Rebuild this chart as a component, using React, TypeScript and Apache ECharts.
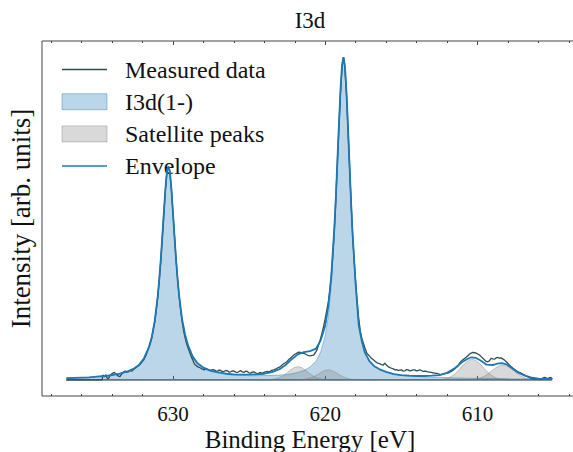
import React, { useEffect, useRef } from "react";
import * as echarts from "echarts";

// ---------- axis settings ----------
const X_MIN = 603.4;
const X_MAX = 638.6;
const Y_MIN = -0.05;
const Y_MAX = 1.05;
const MAJOR_TICKS = [610, 620, 630];
const MINOR_TICKS = [604, 606, 608, 612, 614, 616, 618, 622, 624, 626, 628, 632, 634, 636, 638];

// ---------- fit grid (binding energy, eV) ----------
const GRID_E = [
  637.0, 636.5, 636.0, 635.5, 635.0, 634.5, 634.0, 633.5, 633.0, 632.6, 632.2, 631.9, 631.6, 631.4,
  631.2, 631.0, 630.9, 630.8, 630.7, 630.6, 630.5, 630.4, 630.3, 630.2, 630.1, 630.0, 629.9, 629.8,
  629.7, 629.6, 629.4, 629.2, 629.0, 628.7, 628.4, 628.0, 627.5, 627.0, 626.5, 626.0, 625.5, 625.0,
  624.5, 624.0, 623.5, 623.0, 622.6, 622.2, 621.8, 621.4, 621.0, 620.6, 620.3, 620.0, 619.8, 619.6,
  619.4, 619.3, 619.2, 619.1, 619.0, 618.9, 618.8, 618.7, 618.6, 618.5, 618.4, 618.3, 618.2, 618.0,
  617.8, 617.6, 617.4, 617.1, 616.8, 616.4, 616.0, 615.5, 615.0, 614.5, 614.0, 613.5, 613.0, 612.5,
  612.0, 611.5, 611.0, 610.7, 610.4, 610.1, 609.8, 609.4, 609.0, 608.7, 608.4, 608.1, 607.8, 607.4,
  607.0, 606.5, 606.0, 605.5, 605.1,
];

// I3d(1-) component (both spin-orbit peaks)
const I3D = [
  0.005, 0.006, 0.007, 0.008, 0.010, 0.012, 0.015, 0.019, 0.026, 0.034, 0.048, 0.067, 0.098, 0.131,
  0.182, 0.259, 0.312, 0.372, 0.444, 0.517, 0.589, 0.646, 0.662, 0.646, 0.589, 0.517, 0.444, 0.373,
  0.312, 0.260, 0.183, 0.132, 0.099, 0.068, 0.050, 0.035, 0.026, 0.021, 0.017, 0.015, 0.014, 0.013,
  0.013, 0.014, 0.014, 0.015, 0.016, 0.019, 0.023, 0.029, 0.040, 0.058, 0.086, 0.137, 0.195, 0.294,
  0.447, 0.546, 0.660, 0.774, 0.883, 0.962, 0.992, 0.961, 0.882, 0.773, 0.659, 0.546, 0.447, 0.293,
  0.170, 0.120, 0.085, 0.058, 0.043, 0.031, 0.024, 0.018, 0.014, 0.012, 0.011, 0.009, 0.008, 0.008,
  0.007, 0.006, 0.006, 0.005, 0.005, 0.005, 0.005, 0.004, 0.004, 0.004, 0.004, 0.004, 0.003, 0.003,
  0.003, 0.003, 0.003, 0.003, 0.003,
];

// Envelope (sum of fitted components)
const ENVELOPE = [
  0.005, 0.006, 0.007, 0.008, 0.010, 0.012, 0.015, 0.019, 0.026, 0.034, 0.048, 0.067, 0.098, 0.131,
  0.182, 0.259, 0.312, 0.372, 0.444, 0.517, 0.589, 0.646, 0.662, 0.646, 0.589, 0.517, 0.445, 0.374,
  0.314, 0.263, 0.188, 0.140, 0.106, 0.072, 0.052, 0.038, 0.028, 0.023, 0.019, 0.017, 0.016, 0.016,
  0.017, 0.019, 0.024, 0.033, 0.046, 0.064, 0.079, 0.086, 0.089, 0.097, 0.122, 0.168, 0.227, 0.323,
  0.472, 0.569, 0.680, 0.791, 0.897, 0.973, 1.000, 0.968, 0.887, 0.777, 0.662, 0.548, 0.449, 0.294,
  0.170, 0.120, 0.085, 0.058, 0.043, 0.032, 0.025, 0.018, 0.015, 0.013, 0.012, 0.012, 0.013, 0.015,
  0.022, 0.036, 0.055, 0.064, 0.070, 0.068, 0.060, 0.047, 0.046, 0.050, 0.052, 0.048, 0.038, 0.024,
  0.015, 0.008, 0.004, 0.003, 0.003,
];

// Satellite peaks
const SAT1_E = [624.8, 624.3, 623.8, 623.55, 623.3, 623.05, 622.8, 622.55, 622.3, 622.05, 621.8, 621.55, 621.3, 621.05, 620.8, 620.55, 620.3, 620.05, 619.8, 619.3, 618.8];
const SAT1_V = [0, 0.0002, 0.0007, 0.0014, 0.0029, 0.0062, 0.0121, 0.0205, 0.0301, 0.038, 0.041, 0.038, 0.0301, 0.0205, 0.0121, 0.0062, 0.0029, 0.0014, 0.0007, 0.0002, 0];
const SAT2_E = [622.8, 622.3, 621.8, 621.55, 621.3, 621.05, 620.8, 620.55, 620.3, 620.05, 619.8, 619.55, 619.3, 619.05, 618.8, 618.55, 618.3, 618.05, 617.8, 617.3, 616.8];
const SAT2_V = [0, 0.0002, 0.0005, 0.001, 0.0022, 0.0047, 0.0091, 0.0155, 0.0228, 0.0287, 0.031, 0.0287, 0.0228, 0.0155, 0.0091, 0.0047, 0.0022, 0.001, 0.0005, 0.0002, 0];
const SAT3_E = [613.35, 612.85, 612.35, 612.1, 611.85, 611.6, 611.35, 611.1, 610.85, 610.6, 610.35, 610.1, 609.85, 609.6, 609.35, 609.1, 608.85, 608.6, 608.35, 607.85, 607.35];
const SAT3_V = [0, 0.0002, 0.0013, 0.0034, 0.0074, 0.0143, 0.0245, 0.0373, 0.0504, 0.0603, 0.064, 0.0603, 0.0504, 0.0373, 0.0245, 0.0143, 0.0074, 0.0034, 0.0013, 0.0002, 0];
const SAT4_E = [611.35, 610.85, 610.35, 610.1, 609.85, 609.6, 609.35, 609.1, 608.85, 608.6, 608.35, 608.1, 607.85, 607.6, 607.35, 607.1, 606.85, 606.6, 606.35, 605.85, 605.35];
const SAT4_V = [0, 0.0001, 0.001, 0.0024, 0.0053, 0.0103, 0.0176, 0.0268, 0.0362, 0.0433, 0.046, 0.0433, 0.0362, 0.0268, 0.0176, 0.0103, 0.0053, 0.0024, 0.001, 0.0001, 0];

// Measured data [binding energy, intensity]
const MEASURED: [number, number][] = [
  [637.0, 0], [634.65, 0], [634.6, 0.015], [634.5, 0.009], [634.42, 0.016], [634.33, 0.006], [634.24, 0.004],
  [634.14, 0.012], [634.05, 0.018], [633.94, 0.021], [633.84, 0.023], [633.72, 0.017], [633.61, 0.012],
  [633.48, 0.010], [633.35, 0.019], [633.25, 0.024], [633.15, 0.027], [633.05, 0.024], [632.92, 0.025],
  [632.82, 0.029], [632.72, 0.027], [632.61, 0.031], [632.48, 0.036], [632.35, 0.041], [632.2, 0.046],
  [632.09, 0.052], [631.92, 0.062], [631.76, 0.077], [631.65, 0.093], [631.5, 0.110], [631.4, 0.128],
  [631.3, 0.152], [631.2, 0.178], [631.1, 0.213], [631.0, 0.255], [630.9, 0.307], [630.8, 0.368],
  [630.7, 0.440], [630.6, 0.512], [630.5, 0.585], [630.4, 0.640], [630.35, 0.655], [630.3, 0.660],
  [630.25, 0.655], [630.2, 0.642], [630.1, 0.590], [630.0, 0.520], [629.9, 0.448], [629.8, 0.376],
  [629.7, 0.316], [629.6, 0.262], [629.5, 0.218], [629.4, 0.182], [629.3, 0.152], [629.2, 0.130],
  [629.1, 0.112], [629.0, 0.098], [628.9, 0.085], [628.8, 0.072], [628.7, 0.062], [628.6, 0.050],
  [628.5, 0.045], [628.39, 0.041], [628.28, 0.039], [628.17, 0.036], [628.06, 0.033], [627.95, 0.031],
  [627.84, 0.034], [627.73, 0.033], [627.62, 0.030], [627.52, 0.029], [627.41, 0.032], [627.3, 0.031],
  [627.19, 0.028], [627.08, 0.027], [626.97, 0.030], [626.86, 0.029], [626.75, 0.025], [626.65, 0.026],
  [626.53, 0.029], [626.42, 0.028], [626.31, 0.024], [626.21, 0.025], [626.1, 0.028], [625.99, 0.027],
  [625.88, 0.024], [625.77, 0.023], [625.66, 0.026], [625.56, 0.029], [625.45, 0.025], [625.34, 0.023],
  [625.23, 0.027], [625.12, 0.026], [625.01, 0.022], [624.9, 0.021], [624.8, 0.024], [624.69, 0.025],
  [624.58, 0.022], [624.47, 0.019], [624.36, 0.021], [624.25, 0.023], [624.14, 0.020], [624.03, 0.023],
  [623.92, 0.025], [623.81, 0.026], [623.7, 0.025], [623.59, 0.027], [623.48, 0.030], [623.38, 0.031],
  [623.27, 0.033], [623.16, 0.036], [623.05, 0.039], [622.94, 0.041], [622.84, 0.046], [622.73, 0.050],
  [622.62, 0.053], [622.5, 0.057], [622.4, 0.063], [622.29, 0.067], [622.18, 0.072], [622.07, 0.077],
  [621.96, 0.080], [621.85, 0.083], [621.74, 0.086], [621.63, 0.085], [621.52, 0.082], [621.42, 0.083],
  [621.31, 0.080], [621.2, 0.077], [621.09, 0.075], [620.98, 0.074], [620.87, 0.076], [620.76, 0.077],
  [620.65, 0.084], [620.54, 0.093], [620.44, 0.108], [620.33, 0.124], [620.22, 0.143], [620.11, 0.165],
  [620.0, 0.19], [619.9, 0.215], [619.8, 0.24], [619.7, 0.275], [619.6, 0.322], [619.5, 0.39],
  [619.4, 0.468], [619.3, 0.565], [619.2, 0.675], [619.1, 0.785], [619.0, 0.888], [618.9, 0.968],
  [618.85, 0.99], [618.8, 1.0], [618.75, 0.99], [618.7, 0.962], [618.6, 0.882], [618.5, 0.772],
  [618.4, 0.658], [618.3, 0.548], [618.2, 0.45], [618.1, 0.37], [618.0, 0.302], [617.9, 0.24],
  [617.8, 0.19], [617.7, 0.152], [617.6, 0.13], [617.5, 0.114], [617.38, 0.097], [617.27, 0.083],
  [617.16, 0.077], [617.06, 0.072], [616.95, 0.066], [616.84, 0.062], [616.73, 0.058], [616.62, 0.054],
  [616.52, 0.051], [616.41, 0.050], [616.3, 0.047], [616.19, 0.046], [616.08, 0.052], [615.97, 0.045],
  [615.86, 0.041], [615.75, 0.038], [615.64, 0.036], [615.53, 0.034], [615.42, 0.031], [615.31, 0.032],
  [615.21, 0.029], [615.1, 0.030], [614.99, 0.031], [614.88, 0.027], [614.77, 0.028], [614.66, 0.032],
  [614.56, 0.031], [614.45, 0.028], [614.33, 0.029], [614.23, 0.031], [614.12, 0.031], [614.01, 0.028],
  [613.9, 0.029], [613.79, 0.031], [613.68, 0.029], [613.57, 0.026], [613.46, 0.027], [613.35, 0.026],
  [613.25, 0.025], [613.14, 0.024], [613.03, 0.023], [612.92, 0.022], [612.81, 0.021], [612.7, 0.020],
  [612.59, 0.019], [612.48, 0.017], [612.37, 0.016], [612.26, 0.018], [612.16, 0.019], [612.05, 0.020],
  [611.94, 0.021], [611.83, 0.024], [611.72, 0.026], [611.61, 0.030], [611.5, 0.034], [611.39, 0.038],
  [611.28, 0.043], [611.18, 0.052], [611.07, 0.058], [610.96, 0.062], [610.85, 0.066], [610.74, 0.070],
  [610.63, 0.075], [610.52, 0.080], [610.41, 0.083], [610.31, 0.085], [610.2, 0.084], [610.09, 0.083],
  [609.98, 0.080], [609.87, 0.077], [609.76, 0.072], [609.65, 0.067], [609.54, 0.062], [609.43, 0.057],
  [609.33, 0.056], [609.22, 0.059], [609.1, 0.067], [609.0, 0.065], [608.89, 0.064], [608.78, 0.068],
  [608.67, 0.070], [608.56, 0.067], [608.45, 0.068], [608.35, 0.065], [608.24, 0.062], [608.13, 0.057],
  [608.02, 0.052], [607.91, 0.046], [607.8, 0.041], [607.69, 0.037], [607.58, 0.033], [607.47, 0.029],
  [607.37, 0.026], [607.25, 0.023], [607.14, 0.021], [607.03, 0.018], [606.93, 0.0155], [606.82, 0.012],
  [606.71, 0.010], [606.6, 0.007], [606.49, 0.005], [606.38, 0.004], [606.27, 0.002], [606.16, 0.003],
  [606.06, 0.004], [605.95, 0.003], [605.84, 0.002], [605.73, 0.005], [605.62, 0.008], [605.51, 0.006],
  [605.4, 0.004], [605.29, 0.006], [605.18, 0.008], [605.08, 0.002],
];

const LEGEND_LABELS = ["Measured data", "I3d(1-)", "Satellite peaks", "Envelope"];
const TITLE = "I3d";

// ---------- styles ----------
const FONT = "'Liberation Serif', 'Times New Roman', serif";
const TEXT_COLOR = "#111";
const SPINE = "#444";
const MEAS_COLOR = "#2f4f4f";
const ENV_COLOR = "#1f77b4";
const I3D_FILL = "rgba(31,119,180,0.3)";
const I3D_EDGE = "rgba(31,119,180,0.4)";
const SAT_FILL = "rgba(128,128,128,0.3)";
const SAT_EDGE = "rgba(128,128,128,0.4)";

const zip = (xs: number[], ys: number[]) => xs.map((x, i) => [x, ys[i]]);

export default function App() {
  const ref = useRef<HTMLDivElement>(null);

  useEffect(() => {
    if (!ref.current) return;
    const chart = echarts.init(ref.current, null, { renderer: "svg" });

    const baseX = {
      type: "value",
      min: X_MIN,
      max: X_MAX,
      inverse: true,
      gridIndex: 0,
      axisLine: { show: false },
      splitLine: { show: false },
      axisLabel: { show: false },
    };
    const tick = (values: number[], len: number) => ({
      show: true,
      inside: true,
      length: len,
      customValues: values,
      lineStyle: { color: SPINE, width: 1 },
    });

    const satSeries = [
      [SAT1_E, SAT1_V],
      [SAT2_E, SAT2_V],
      [SAT3_E, SAT3_V],
      [SAT4_E, SAT4_V],
    ].map(([e, v]) => ({
      name: LEGEND_LABELS[2],
      type: "line",
      data: zip(e, v),
      symbol: "none",
      lineStyle: { color: SAT_EDGE, width: 1 },
      areaStyle: { color: SAT_FILL, opacity: 1 },
      z: 2,
      silent: true,
    }));

    const rowY = [69.5, 101.7, 133.9, 166.1];
    const iconX = 62;
    const iconW = 45;
    const textX = 125;
    const legendText = (i: number) => ({
      type: "text",
      x: textX,
      y: rowY[i],
      style: {
        text: LEGEND_LABELS[i],
        fontFamily: FONT,
        fontSize: 24,
        fill: TEXT_COLOR,
        verticalAlign: "middle",
        align: "left",
      },
    });

    const option: any = {
      animation: false,
      grid: {
        left: 42,
        top: 41,
        width: 536,
        height: 355,
        show: true,
        borderColor: SPINE,
        borderWidth: 1,
        backgroundColor: "transparent",
        containLabel: false,
        outerBoundsMode: "none",
      },
      xAxis: [
        {
          ...baseX,
          position: "bottom",
          name: "Binding Energy [eV]",
          nameLocation: "middle",
          nameGap: 31,
          nameMoveOverlap: false,
          nameTextStyle: { fontFamily: FONT, fontSize: 25, color: TEXT_COLOR },
          axisTick: tick(MAJOR_TICKS, 4),
          axisLabel: {
            show: true,
            customValues: MAJOR_TICKS,
            margin: 7,
            fontFamily: FONT,
            fontSize: 21,
            color: TEXT_COLOR,
          },
        },
        { ...baseX, position: "bottom", axisTick: tick(MINOR_TICKS, 2) },
        { ...baseX, position: "top", axisTick: tick(MAJOR_TICKS, 4) },
        { ...baseX, position: "top", axisTick: tick(MINOR_TICKS, 2) },
      ],
      yAxis: {
        type: "value",
        min: Y_MIN,
        max: Y_MAX,
        axisLine: { show: false },
        axisTick: { show: false },
        axisLabel: { show: false },
        splitLine: { show: false },
        name: "Intensity [arb. units]",
        nameLocation: "middle",
        nameGap: 8,
        nameMoveOverlap: false,
        nameTextStyle: { fontFamily: FONT, fontSize: 27, color: TEXT_COLOR },
      },
      series: [
        {
          name: LEGEND_LABELS[1],
          type: "line",
          data: zip(GRID_E, I3D),
          symbol: "none",
          lineStyle: { color: I3D_EDGE, width: 1 },
          areaStyle: { color: I3D_FILL, opacity: 1 },
          z: 2,
          silent: true,
        },
        ...satSeries,
        {
          name: "baseline",
          type: "line",
          data: [
            [GRID_E[0], 0],
            [GRID_E[GRID_E.length - 1], 0],
          ],
          symbol: "none",
          lineStyle: { color: "#5d7585", width: 1.6 },
          z: 2,
          silent: true,
        },
        {
          name: LEGEND_LABELS[0],
          type: "line",
          data: MEASURED,
          symbol: "none",
          lineStyle: { color: MEAS_COLOR, width: 1.3 },
          z: 3,
          silent: true,
        },
        {
          name: LEGEND_LABELS[3],
          type: "line",
          data: zip(GRID_E, ENVELOPE),
          symbol: "none",
          lineStyle: { color: ENV_COLOR, width: 1.8 },
          z: 4,
          silent: true,
        },
      ],
      graphic: [
        {
          type: "text",
          x: 310,
          y: 20,
          style: {
            text: TITLE,
            fontFamily: FONT,
            fontSize: 23,
            fill: TEXT_COLOR,
            align: "center",
            verticalAlign: "middle",
          },
        },
        { type: "line", shape: { x1: iconX, y1: rowY[0], x2: iconX + iconW, y2: rowY[0] }, style: { stroke: MEAS_COLOR, lineWidth: 1.5 } },
        legendText(0),
        { type: "rect", shape: { x: iconX, y: rowY[1] - 8, width: iconW, height: 16 }, style: { fill: I3D_FILL, stroke: I3D_EDGE, lineWidth: 1 } },
        legendText(1),
        { type: "rect", shape: { x: iconX, y: rowY[2] - 8, width: iconW, height: 16 }, style: { fill: SAT_FILL, stroke: SAT_EDGE, lineWidth: 1 } },
        legendText(2),
        { type: "line", shape: { x1: iconX, y1: rowY[3], x2: iconX + iconW, y2: rowY[3] }, style: { stroke: ENV_COLOR, lineWidth: 1.5 } },
        legendText(3),
      ],
    };

    chart.setOption(option);
    return () => chart.dispose();
  }, []);

  return (
    <div
      ref={ref}
      style={{ position: "fixed", left: 0, top: 0, width: 573, height: 452, background: "#fff" }}
    />
  );
}
